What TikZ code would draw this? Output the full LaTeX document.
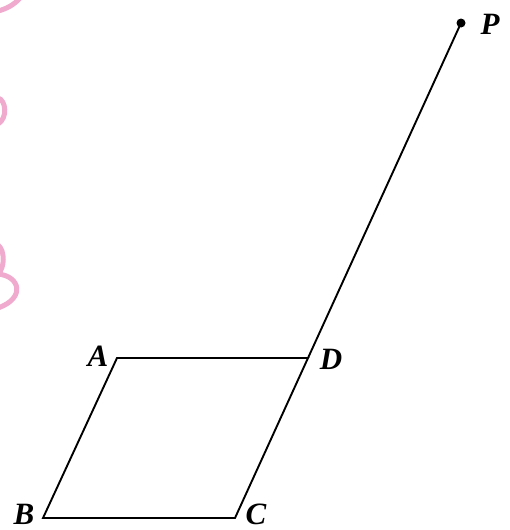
\documentclass[tikz,border=0pt]{standalone}
\usepackage{fontspec}
\setmainfont{Liberation Serif}
\begin{document}
\begin{tikzpicture}[x=1pt,y=-1pt,
  edge/.style={line width=1.9pt,black},
  lbl/.style={font=\fontsize{31}{31}\selectfont\bfseries\itshape,inner sep=0pt},
  scribble/.style={line width=5pt,color={rgb,255:red,240;green,170;blue,205},line cap=round}]
\useasboundingbox (0,0) rectangle (510,530);
\coordinate (A) at (117,358);
\coordinate (D) at (308,358);
\coordinate (B) at (43,518);
\coordinate (C) at (235,518);
\coordinate (P) at (461,23);
\draw[edge] (A) -- (D) -- (C) -- (B) -- cycle;
\draw[edge] (D) -- (P);
\fill (P) circle (4.5pt);
\node[lbl] (la) at (98,356) {A};
\node[lbl] (ld) at (331,359) {D};
\node[lbl] (lb) at (24,514) {B};
\node[lbl] (lc) at (256,514) {C};
\node[lbl] (lp) at (490,24) {P};
% pink scribbles at the left edge
\draw[scribble] (-2,11) .. controls (6,9) and (14,5) .. (20,-2);
\draw[scribble] (-2,98) .. controls (6,100) and (8,118) .. (-2,124);
\draw[scribble] (-2,245) .. controls (5,250) and (5,268) .. (-2,274)
  .. controls (20,276) and (26,298) .. (-2,308);
\end{tikzpicture}
\end{document}
